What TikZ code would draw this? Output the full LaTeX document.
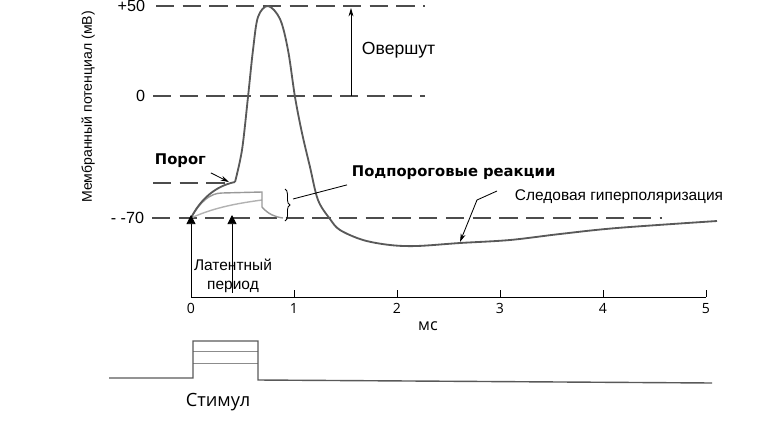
\documentclass[tikz,border=0pt]{standalone}
\usepackage{fontspec}
\setmainfont{Liberation Sans}
\newfontfamily\verdfont{DejaVu Sans}
\newfontfamily\stimfont{Open Sans}
\usepackage{tikz}
\usetikzlibrary{positioning, calc, arrows.meta, decorations.pathreplacing}
\tikzset{
    levelline/.style={
        dash pattern=on 13pt off 6pt,
        line width=0.8pt,
        black!70
    },
    apcurve/.style={
        line width=1.3pt,
        black!65
    },
    subcurve/.style={
        line width=1pt,
        black!40
    },
    ptr/.style={
        -{Stealth[length=6pt, width=3.5pt]},
        line width=0.6pt
    },
    mark arrow/.style={
        -{Triangle[length=6.5pt, width=6.5pt]},
        line width=0.6pt
    },
    boldlbl/.style={
        font=\verdfont\bfseries\fontsize{10.5}{12}\selectfont
    },
    numlbl/.style={
        anchor=east,
        font=\fontsize{11.5}{12}\selectfont
    }
}

\begin{document}
\begin{tikzpicture}[x=0.025cm, y=-0.025cm, font=\fontsize{11}{13}\selectfont]
    \useasboundingbox (0,0) rectangle (772,422);

    % 1. Уровни потенциала
    \node[numlbl] (lbl50) at (150,6) {+50};
    \node[numlbl] (lbl0) at (150,96) {0};
    \node[numlbl] (lbl70) at (149,218) {- -70};
    \draw[levelline] (156,6) -- (425,6);
    \draw[levelline] (153,96) -- (425,96);
    \draw[levelline] (152,218) -- (662,218);
    \draw[levelline] (153,183) -- (227,183);
    \node[rotate=90, font=\fontsize{10}{12}\selectfont] (ylbl) at (88,107) {Мембранный потенциал (мВ)};

    % 2. Овершут
    \coordinate (os0) at (351,96);
    \coordinate (os50) at (351,8);
    \draw[ptr] (os0) -- (os50);
    \node[anchor=west, font=\fontsize{12.5}{14}\selectfont] (overshoot) at (357,50) {Овершут};

    % 3. Подпороговые ответы и потенциал действия
    \draw[subcurve, black!30] (191,218) .. controls (215,207) and (240,203) .. (262,200);
    \draw[subcurve] (191,218) .. controls (200,202) and (210,193) .. (222,193)
        -- (262,192) -- (262,207) .. controls (268,214) and (275,217) .. (283,218);
    \draw[apcurve] (191,218) .. controls (200,200) and (215,186) .. (235,182);
    \draw[apcurve] plot[smooth, tension=0.55] coordinates {
        (235,182) (242,150) (248,97) (253,50) (258,17) (268,6) (280,19) (288,50)
        (295,97) (302,133) (310,167) (318,200) (330,219) (340,230) (363,240)
        (390,245) (417,246) (460,243) (510,240) (560,234) (617,228) (717,221)};

    % 4. Подписи
    \node[boldlbl, anchor=west] (porog) at (150,161) {Порог};
    \coordinate (thr) at (229,182);
    \draw[ptr] (porog.south east) -- (thr);

    \draw[decorate, decoration={brace, amplitude=3.5pt}, line width=0.6pt] (285,189) -- (285,221);
    \coordinate (subtip) at (293,199);
    \node[boldlbl, anchor=west] (sublbl) at (347,173) {Подпороговые реакции};
    \draw[line width=0.6pt] (subtip) -- (sublbl.south west);

    \node[anchor=west] (trace) at (510,197) {Следовая гиперполяризация};
    \coordinate (tr1) at (497,191);
    \coordinate (tr2) at (477,200);
    \coordinate (trmin) at (460,242);
    \draw[ptr] (tr1) -- (tr2) -- (trmin);

    % 5. Ось времени
    \coordinate (orig) at (191,297);
    \coordinate (lat) at (232,293);
    \draw[line width=0.7pt] (orig) -- (706,297);
    \foreach \i in {0,...,5} {
        \coordinate (t\i) at (191+103*\i,297);
        \ifnum\i>0 \draw[line width=0.7pt] (t\i) -- ++(0,-7); \fi
        \node[below=1pt of t\i, font=\stimfont\fontsize{10}{12}\selectfont] (tl\i) {\i};
    }
    \node[font=\stimfont\fontsize{11.5}{12}\selectfont] (ms) at (428,326) {мс};
    \draw[mark arrow] (orig) -- (191,215);
    \draw[mark arrow] (lat) -- (232,215);
    \node[align=center] (latent) at (233,276) {Латентный\\период};

    % 6. Стимул
    \draw[line width=0.6pt, black!45] (193,351) -- (258,351);
    \draw[line width=0.6pt, black!45] (193,363) -- (258,363);
    \draw[line width=1pt, black!65] (109,378) -- (193,378) -- (193,341) -- (258,341)
        -- (258,380) -- (712,383);
    \node[font=\stimfont\fontsize{13}{14}\selectfont] (stim) at (218,402) {Стимул};
\end{tikzpicture}
\end{document}
